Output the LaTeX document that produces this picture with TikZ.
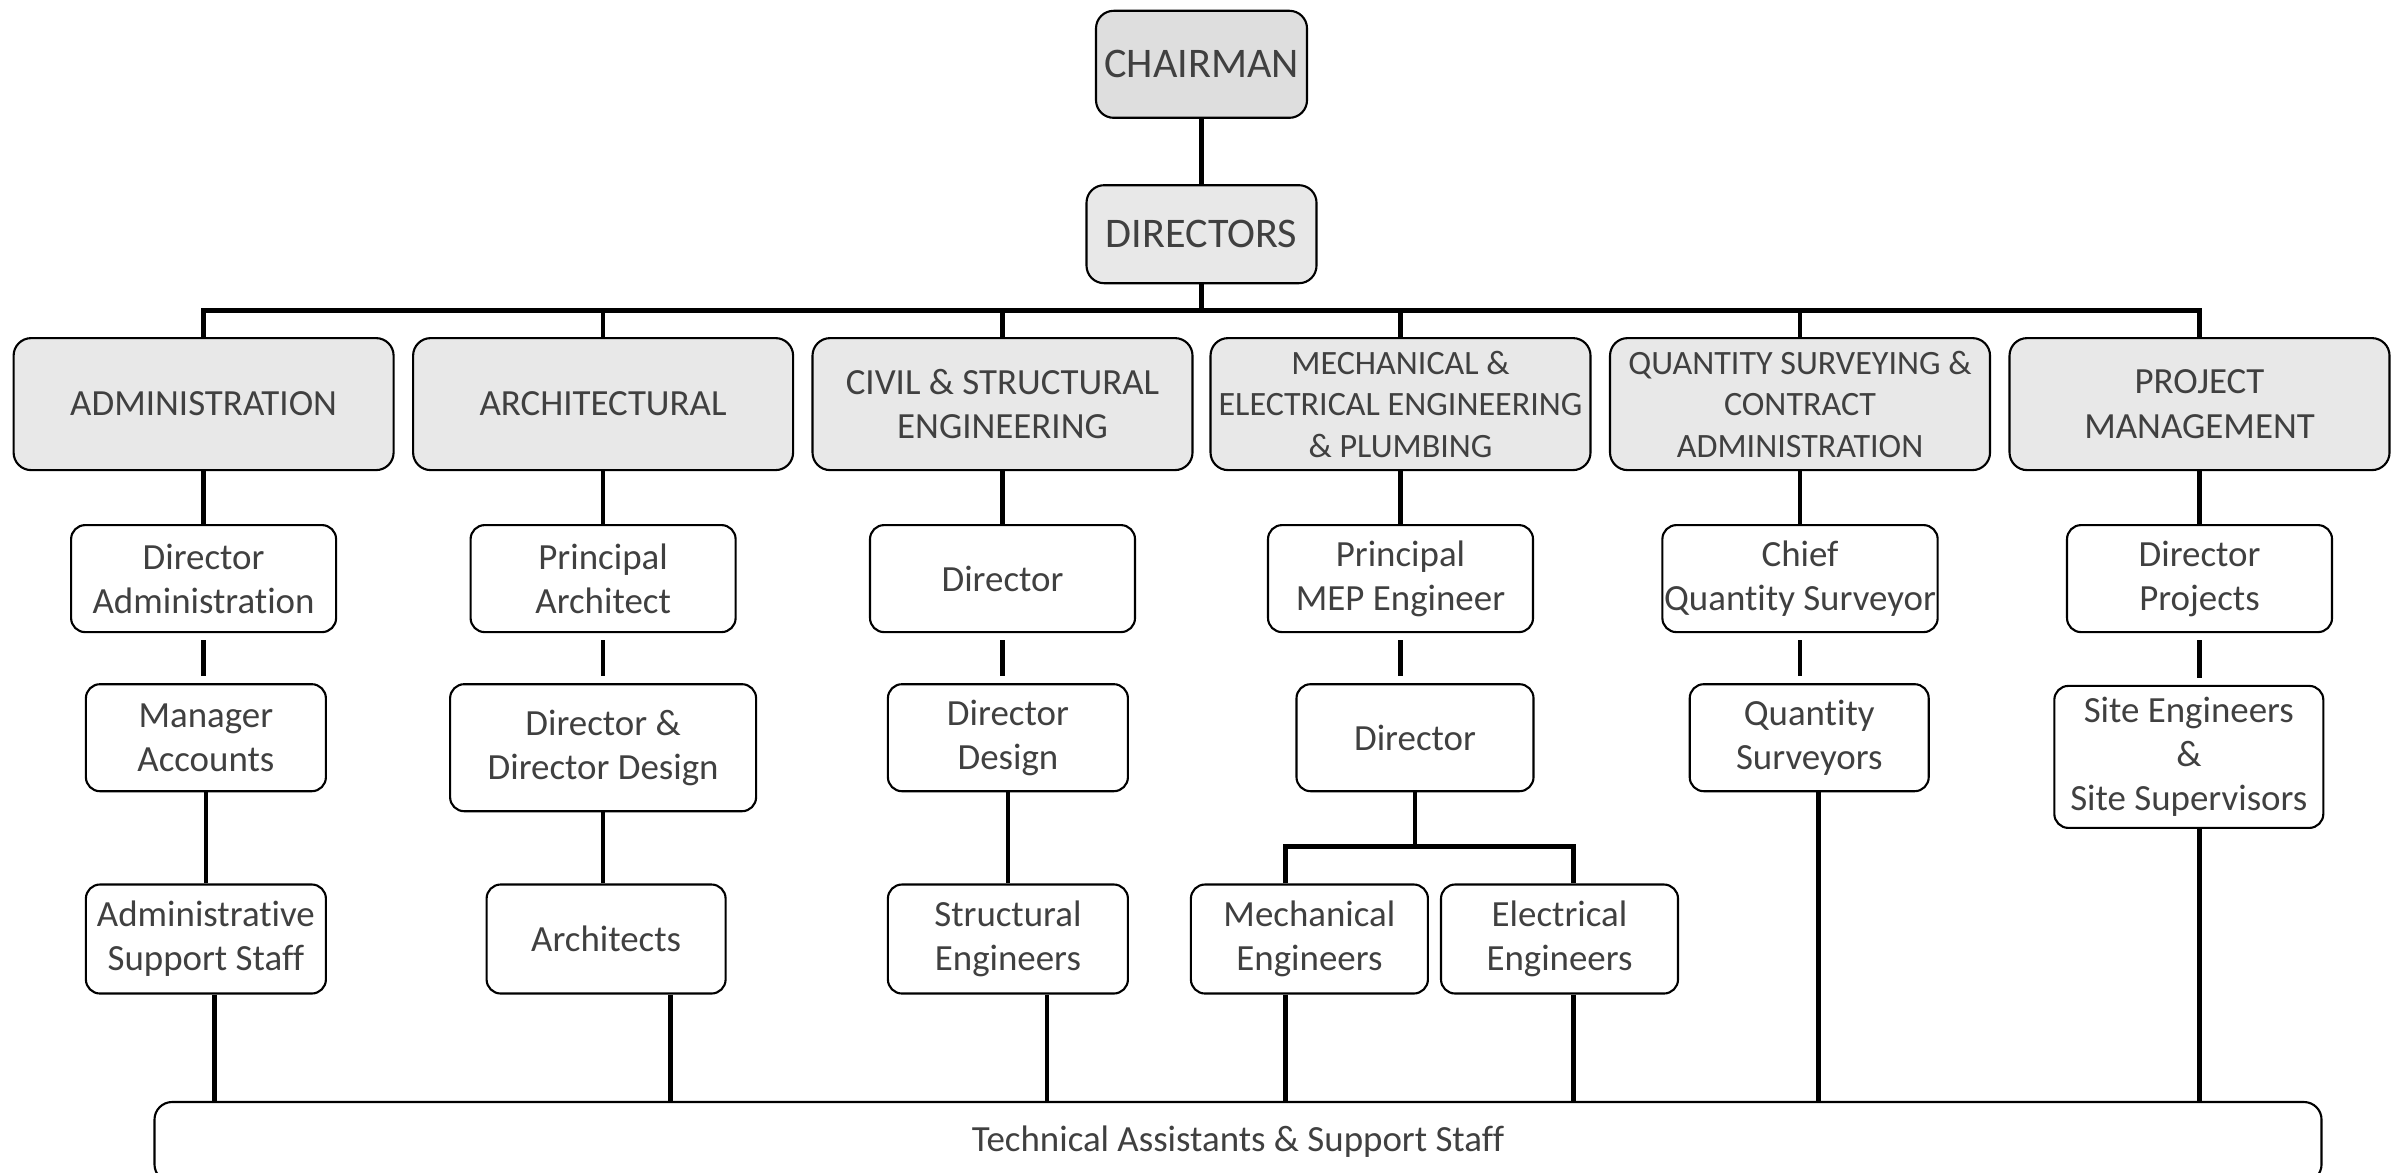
\documentclass[tikz,border=0pt]{standalone}
\usepackage{fontspec}
\setmainfont{Carlito}[Ligatures=NoCommon]
\usetikzlibrary{positioning}
\definecolor{boxgray}{HTML}{E8E8E8}
\definecolor{topgray}{HTML}{DEDEDE}
\definecolor{txtgray}{HTML}{404040}

\begin{document}
\begin{tikzpicture}[
    every node/.style={text=txtgray, align=center},
    unit/.style={draw, line width=0.6pt, rounded corners=5pt, fill=boxgray,
      minimum width=3.8cm, minimum height=1.32cm, inner sep=1pt,
      font=\fontsize{10.5}{12.6}\selectfont},
    small/.style={font=\fontsize{9.7}{11.8}\selectfont},
    big/.style={font=\fontsize{12}{14}\selectfont},
    post/.style={draw, line width=0.6pt, rounded corners=4pt, fill=white,
      minimum width=2.4cm, minimum height=1.07cm, inner xsep=0.5pt, inner ysep=1pt,
      font=\fontsize{10.5}{12.6}\selectfont},
    link/.style={line width=1.35pt},
    gap/.style={shorten <=2pt, shorten >=2pt}
  ]
  \useasboundingbox (0,0) rectangle (24,-11.72);

  % top
  \node[unit, big, fill=topgray, minimum width=2.11cm, minimum height=1.07cm] (chairman) at (12.015,-0.643) {CHAIRMAN};
  \node[unit, big, minimum width=2.30cm, minimum height=0.98cm] (directors) at (12.015,-2.342) {DIRECTORS};

  % departments
  \node[unit] (admin) at (2.036,-4.041) {ADMINISTRATION};
  \node[unit] (arch)  at (6.031,-4.041) {ARCHITECTURAL};
  \node[unit] (civil) at (10.025,-4.041) {CIVIL \& STRUCTURAL\\ENGINEERING};
  \node[unit, small] (mep) at (14.005,-4.041) {MECHANICAL \&\\ELECTRICAL ENGINEERING\\\& PLUMBING};
  \node[unit, small] (qs) at (18.0,-4.041) {QUANTITY SURVEYING \&\\CONTRACT\\ADMINISTRATION};
  \node[unit] (pm)    at (21.995,-4.041) {PROJECT\\MANAGEMENT};

  % heads
  \node[post, minimum width=2.65cm] (dirAdmin) at (2.036,-5.786) {Director\\Administration};
  \node[post, minimum width=2.65cm] (prinArch) at (6.031,-5.786) {Principal\\Architect};
  \node[post, minimum width=2.65cm] (dirCivil) at (10.025,-5.786) {Director};
  \node[post, minimum width=2.65cm] (prinMep)  at (14.005,-5.786) {Principal\\MEP Engineer};
  \node[post, minimum width=2.65cm] (chiefQs)  at (18.0,-5.786) {Chief\\Quantity Surveyor};
  \node[post, minimum width=2.65cm] (dirProj)  at (21.995,-5.786) {Director\\Projects};

  % second line
  \node[post] (mgrAcc) at (2.059,-7.377) {Manager\\Accounts};
  \node[post, minimum width=3.06cm, minimum height=1.27cm] (dirDesign) at (6.031,-7.477) {Director \&\\Director Design};
  \node[post] (civDesign) at (10.079,-7.377) {Director\\Design};
  \node[post, minimum width=2.37cm] (dirMep) at (14.150,-7.377) {Director};
  \node[post, minimum width=2.39cm] (qsurv) at (18.092,-7.377) {Quantity\\Surveyors};
  \node[post, minimum width=2.69cm, minimum height=1.42cm] (site) at (21.888,-7.569) {Site Engineers\\\&\\Site Supervisors};

  % staff
  \node[post, minimum height=1.09cm] (adminStaff) at (2.059,-9.390) {Administrative\\Support Staff};
  \node[post, minimum width=2.39cm, minimum height=1.09cm] (architects) at (6.061,-9.390) {Architects};
  \node[post, minimum height=1.09cm] (structEng) at (10.079,-9.390) {Structural\\Engineers};
  \node[post, minimum width=2.37cm, minimum height=1.09cm] (mechEng) at (13.094,-9.390) {Mechanical\\Engineers};
  \node[post, minimum width=2.37cm, minimum height=1.09cm] (elecEng) at (15.595,-9.390) {Electrical\\Engineers};

  \node[post, rounded corners=5pt, minimum width=21.67cm, minimum height=0.80cm] (support) at (12.38,-11.42) {Technical Assistants \& Support Staff};

  % connectors
  \coordinate (bus) at (12.015,-3.107);
  \coordinate (split) at (14.150,-8.464);
  \draw[link] (chairman) -- (directors);
  \draw[link] (directors) -- (bus);
  \draw[link, line cap=rect] (admin.north |- bus) -- (pm.north |- bus);
  \foreach \n in {admin,arch,civil,mep,qs,pm}
    \draw[link] (\n) -- (\n |- bus);

  \draw[link] (admin) -- (dirAdmin);
  \draw[link] (arch) -- (prinArch);
  \draw[link] (civil) -- (dirCivil);
  \draw[link] (mep) -- (prinMep);
  \draw[link] (qs) -- (chiefQs);
  \draw[link] (pm) -- (dirProj);

  \draw[link, gap] (dirAdmin.south) -- (dirAdmin.south |- mgrAcc.north);
  \draw[link, gap] (prinArch.south) -- (prinArch.south |- dirDesign.north);
  \draw[link, gap] (dirCivil.south) -- (dirCivil.south |- civDesign.north);
  \draw[link, gap] (prinMep.south) -- (prinMep.south |- dirMep.north);
  \draw[link, gap] (chiefQs.south) -- (chiefQs.south |- qsurv.north);
  \draw[link, gap] (dirProj.south) -- (dirProj.south |- site.north);

  \draw[link] (mgrAcc) -- (adminStaff);
  \draw[link] (dirDesign.south) -- (dirDesign.south |- architects.north);
  \draw[link] (civDesign) -- (structEng);
  \draw[link] (dirMep) -- (split);
  \draw[link] ([xshift=-0.237cm]mechEng.north) |- (split) -| ([xshift=0.14cm]elecEng.north);

  \foreach \n/\dx in {adminStaff/0.084, architects/0.643, structEng/0.39, mechEng/-0.237,
                      elecEng/0.14, qsurv/0.092, site/0.107}
    \draw[link] ([xshift=\dx cm]\n.south) -- ([xshift=\dx cm]\n.south |- support.north);
\end{tikzpicture}
\end{document}
